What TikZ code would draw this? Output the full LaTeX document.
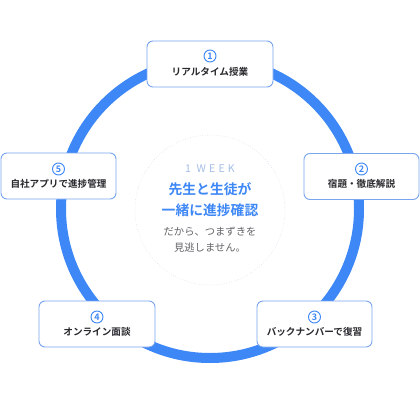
\documentclass[tikz,border=0pt]{standalone}
\usepackage{fontspec}
\setmainfont{Noto Sans CJK JP}[BoldFont={Noto Sans CJK JP Bold}]
\definecolor{ringblue}{RGB}{61,135,246}
\definecolor{boxline}{RGB}{120,165,238}
\definecolor{txtdark}{RGB}{40,40,45}
\definecolor{weekcol}{RGB}{165,190,232}
\definecolor{subgray}{RGB}{100,100,105}
\definecolor{dotcol}{RGB}{205,212,228}
\begin{document}
\begin{tikzpicture}[x=1pt,y=-1pt,
  stepbox/.style={draw=boxline, line width=0.9pt, fill=white, rounded corners=6pt, minimum height=46pt, inner sep=0pt},
  numcirc/.style={circle, draw=ringblue, line width=0.9pt, inner sep=0pt, minimum size=12pt, text=ringblue, font=\fontsize{9}{9}\selectfont\bfseries},
  steplabel/.style={text=txtdark, font=\fontsize{9.6}{10}\selectfont\bfseries, inner sep=0pt},
  headline/.style={text=ringblue, font=\fontsize{13.8}{14}\selectfont\bfseries, inner sep=0pt},
  subline/.style={text=subgray, font=\fontsize{10.3}{11}\selectfont, inner sep=0pt}]
\useasboundingbox (0,0) rectangle (420,420);
\fill[white] (0,0) rectangle (420,420);
% circles
\node[circle, draw=dotcol, dotted, line width=0.5pt, minimum size=150pt, inner sep=0pt] (inner) at (210,210) {};
\node[circle, draw=ringblue, line width=10pt, minimum size=298pt, inner sep=0pt] (ring) at (210,209) {};
% step 1
\node[stepbox, minimum width=126pt] (s1) at (210,64) {};
\node[numcirc] (n1) at (210,56) {1};
\node[steplabel] (t1) at (210,72) {リアルタイム授業};
% step 2
\node[stepbox, minimum width=115pt] (s2) at (361.5,176.5) {};
\node[numcirc] (n2) at (361.5,169) {2};
\node[steplabel] (t2) at (361.5,184) {宿題・徹底解説};
% step 3
\node[stepbox, minimum width=115pt] (s3) at (314.5,324) {};
\node[numcirc] (n3) at (314.5,317) {3};
\node[steplabel] (t3) at (314.5,332) {バックナンバーで復習};
% step 4
\node[stepbox, minimum width=116pt] (s4) at (97,324) {};
\node[numcirc] (n4) at (97,317) {4};
\node[steplabel] (t4) at (97,332) {オンライン面談};
% step 5
\node[stepbox, minimum width=115pt] (s5) at (58.5,176) {};
\node[numcirc] (n5) at (58.5,169) {5};
\node[steplabel] (t5) at (58.5,184) {自社アプリで進捗管理};
% centre text
\node[text=weekcol, inner sep=0pt, font=\fontsize{10.6}{11}\selectfont\addfontfeature{LetterSpace=30}] (wk) at (210,169) {1 WEEK};
\node[headline] (h1) at (210,189) {先生と生徒が};
\node[headline] (h2) at (210,210) {一緒に進捗確認};
\node[subline] (p1) at (210,232) {だから、つまずきを};
\node[subline] (p2) at (210,248) {見逃しません。};
\end{tikzpicture}
\end{document}
